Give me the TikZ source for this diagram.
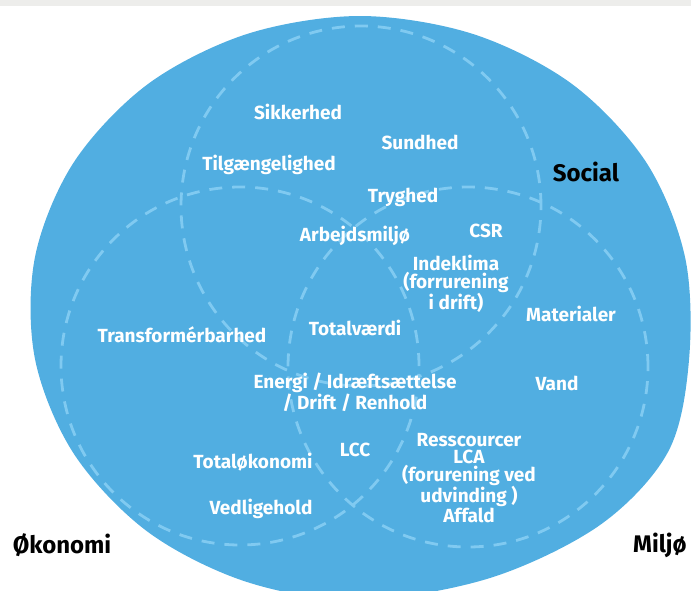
\documentclass[tikz,border=0pt]{standalone}
\usepackage{fontspec}
\setmainfont{Fira Sans}
\definecolor{bandgray}{HTML}{EDEDEB}
\definecolor{bigblue}{HTML}{51AEE1}
\definecolor{ringblue}{HTML}{80CAF1}
\begin{document}
\begin{tikzpicture}[x=1pt,y=-1pt,
  topic/.style={text=white, font=\bfseries\fontsize{19}{17.5}\selectfont, align=center, inner sep=0pt},
  pillar/.style={text=black, font=\bfseries\fontsize{24}{26}\selectfont, inner sep=0pt},
  ring/.style={draw=ringblue, line width=2.8pt, dash pattern=on 13pt off 10pt},
]
\useasboundingbox (0,0) rectangle (691,590);
% thin grey strip along the top edge
\fill[bandgray] (0,0) rectangle (691,6);
% large blue backdrop, an ellipse slightly fuller on the lower right
\fill[bigblue] plot[smooth cycle, tension=0.55] coordinates {
  (360,16) (473,34) (572,84) (646,162) (685,257) (689,360)
  (668,452) (600,525) (490,578) (360,600) (247,582) (148,532)
  (74,454) (35,359) (35,257) (74,162) (148,84) (247,34)};
% three overlapping dashed circles
\draw[ring] (361,206) circle[radius=180pt];
\draw[ring] (240,366) circle[radius=179pt];
\draw[ring] (468,367) circle[radius=180pt];

% circle labels
\node[pillar] (social)  at (586,172) {Social};
\node[pillar] (oekonomi) at (62,545) {Økonomi};
\node[pillar, anchor=west] (miljo) at (633,545) {Miljø};

% topics
\node[topic] (sikkerhed) at (298,112) {Sikkerhed};
\node[topic] (sundhed) at (420,142) {Sundhed};
\node[topic] (tilgaeng) at (269,165) {Tilgængelighed};
\node[topic] (tryghed) at (403,197) {Tryghed};
\node[topic] (arbejds) at (355,236) {Arbejdsmiljø};
\node[topic] (csr) at (486,231) {CSR};
\node[topic] (indeklima) at (456,284) {Indeklima\\(forrurening\\i drift)};
\node[topic] (materialer) at (571,314) {Materialer};
\node[topic] (transf) at (182,335) {Transformérbarhed};
\node[topic] (totalv) at (355,328) {Totalværdi};
\node[topic] (energi) at (355,392) {Energi / Idræftsættelse\\/ Drift / Renhold};
\node[topic] (vand) at (557,383) {Vand};
\node[topic] (lcc) at (355,450) {LCC};
\node[topic] (totaloek) at (253,462) {Totaløkonomi};
\node[topic] (ressourcer) at (469,478) {Resscourcer\\LCA\\(forurening ved\\udvinding )\\Affald};
\node[topic] (vedlige) at (261,509) {Vedligehold};
\end{tikzpicture}
\end{document}
